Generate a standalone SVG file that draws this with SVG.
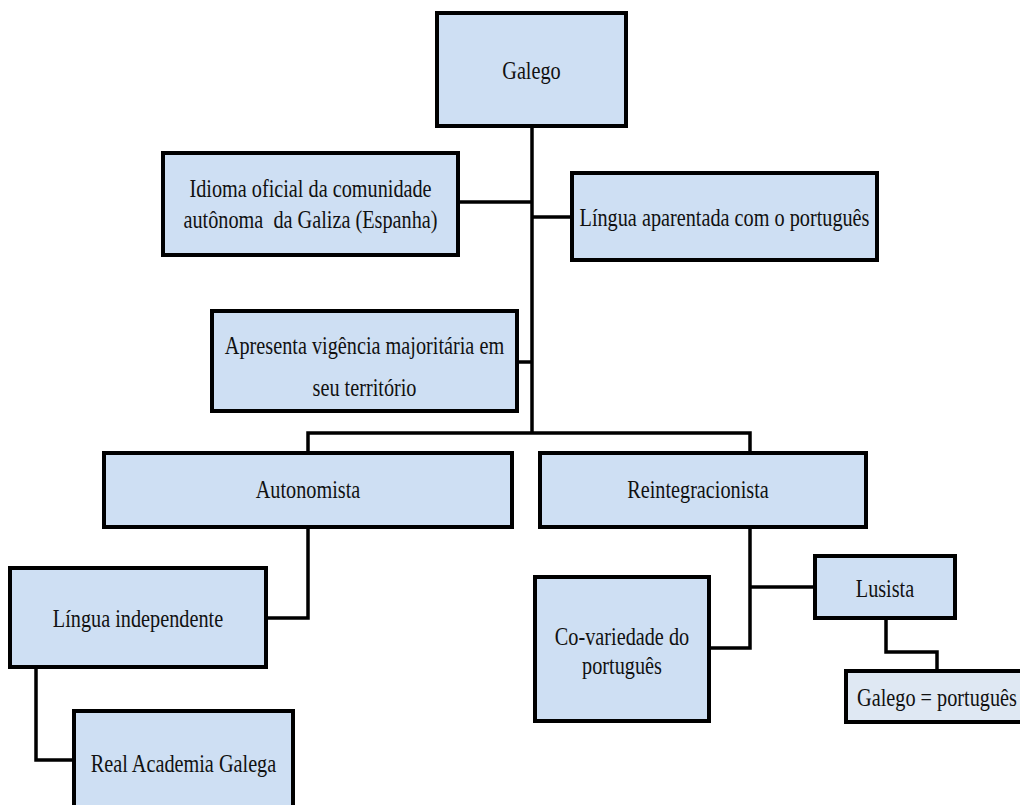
<svg xmlns="http://www.w3.org/2000/svg" width="1020" height="805" viewBox="0 0 1020 805">
<style>
.box{fill:#cedff3;stroke:#000;stroke-width:4}
.box2{fill:#dfe8f3;stroke:#000;stroke-width:4}
.c{fill:none;stroke:#000;stroke-width:3.5}
text{font-family:'Liberation Serif','Times New Roman','DejaVu Serif',serif;font-size:25px;fill:#111;text-anchor:middle}
</style>
<rect width="1020" height="805" fill="#fff"/>
<g id="connectors">
<path class="c" d="M532 126V433"/>
<path class="c" d="M458 202H532"/>
<path class="c" d="M532 217H572"/>
<path class="c" d="M517 362H532"/>
<path class="c" d="M308 453V433H750V453"/>
<path class="c" d="M308 527V618H266"/>
<path class="c" d="M36 667V760H74"/>
<path class="c" d="M750 527V648H709"/>
<path class="c" d="M750 587H815"/>
<path class="c" d="M886 618V652H937V671"/>
</g>
<g id="galego">
<rect class="box" x="437" y="13" width="189" height="113"/>
<text font-family="Liberation Serif, serif" transform="translate(531.5,79) scale(0.81,1)">Galego</text>
</g>
<g id="idioma">
<rect class="box" x="163" y="153" width="295" height="102"/>
<text font-family="Liberation Serif, serif" transform="translate(310.5,197) scale(0.81,1)">Idioma oficial da comunidade</text>
<text font-family="Liberation Serif, serif" transform="translate(310.5,228) scale(0.81,1)" xml:space="preserve">autônoma  da Galiza (Espanha)</text>
</g>
<g id="lingua-aparentada">
<rect class="box" x="572" y="173" width="305" height="87"/>
<text font-family="Liberation Serif, serif" transform="translate(724.5,226) scale(0.81,1)">Língua aparentada com o português</text>
</g>
<g id="apresenta">
<rect class="box" x="212" y="311" width="305" height="100"/>
<text font-family="Liberation Serif, serif" transform="translate(364.5,354) scale(0.81,1)">Apresenta vigência majoritária em</text>
<text font-family="Liberation Serif, serif" transform="translate(364.5,396) scale(0.81,1)">seu território</text>
</g>
<g id="autonomista">
<rect class="box" x="104" y="453" width="408" height="74"/>
<text font-family="Liberation Serif, serif" transform="translate(308,498) scale(0.81,1)">Autonomista</text>
</g>
<g id="reintegracionista">
<rect class="box" x="540" y="453" width="326" height="74"/>
<text font-family="Liberation Serif, serif" transform="translate(698,498) scale(0.81,1)">Reintegracionista</text>
</g>
<g id="lingua-independente">
<rect class="box" x="10" y="568" width="256" height="99"/>
<text font-family="Liberation Serif, serif" transform="translate(138,627) scale(0.81,1)">Língua independente</text>
</g>
<g id="real-academia">
<rect class="box" x="74" y="711" width="219" height="120"/>
<text font-family="Liberation Serif, serif" transform="translate(183.5,772) scale(0.81,1)">Real Academia Galega</text>
</g>
<g id="co-variedade">
<rect class="box" x="535" y="577" width="174" height="144"/>
<text font-family="Liberation Serif, serif" transform="translate(622,645) scale(0.81,1)">Co-variedade do</text>
<text font-family="Liberation Serif, serif" transform="translate(622,674) scale(0.81,1)">português</text>
</g>
<g id="lusista">
<rect class="box" x="815" y="556" width="140" height="62"/>
<text font-family="Liberation Serif, serif" transform="translate(885,597) scale(0.81,1)">Lusista</text>
</g>
<g id="galego-portugues">
<rect class="box2" x="846" y="671" width="182" height="51"/>
<text font-family="Liberation Serif, serif" transform="translate(937,706) scale(0.81,1)">Galego = português</text>
</g>
</svg>
